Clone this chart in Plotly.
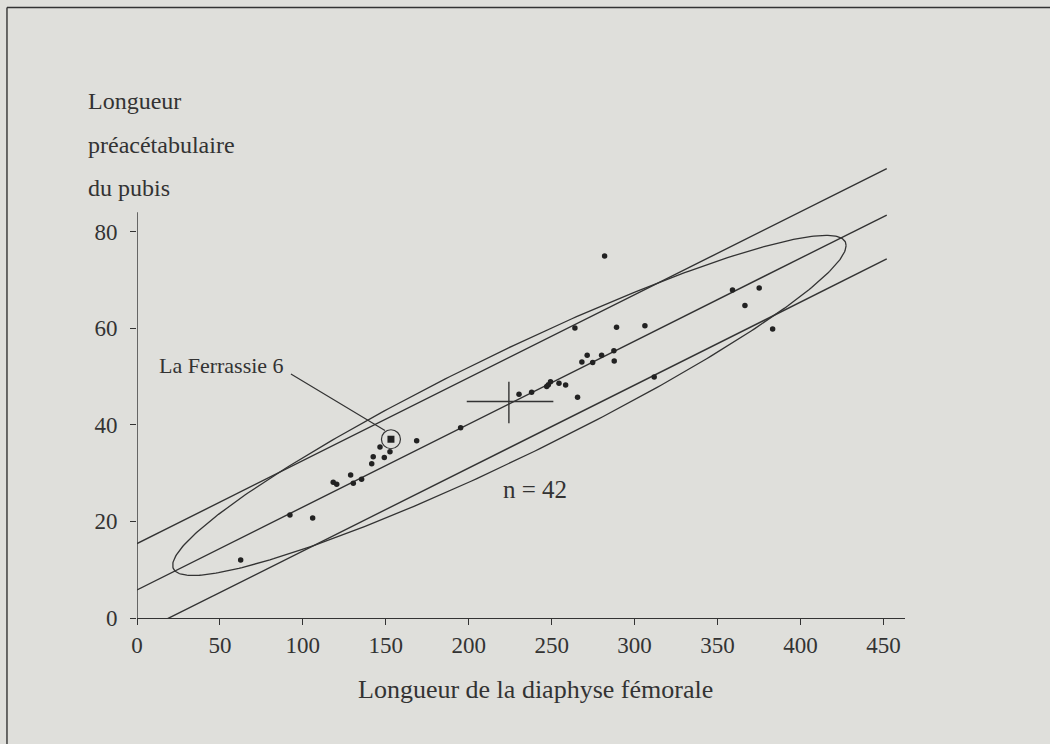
import numpy as np
import plotly.graph_objects as go

# ---- data ----
femur = [62.5, 92.2, 105.9, 118.3, 120.4, 128.8, 130.4, 135.4, 141.5, 142.4,
         146.5, 149.1, 152.5, 168.6, 195.1, 230.3, 237.9, 247.0, 248.0, 249.3,
         254.4, 258.4, 265.6, 264.0, 268.2, 271.4, 274.7, 280.1, 281.9, 287.5,
         287.7, 289.1, 306.2, 311.8, 359.0, 366.5, 375.1, 383.2]
pubis = [12.0, 21.3, 20.7, 28.1, 27.7, 29.6, 27.9, 28.7, 31.9, 33.4,
         35.4, 33.2, 34.4, 36.7, 39.4, 46.3, 46.7, 47.9, 48.3, 48.9,
         48.6, 48.2, 45.7, 60.0, 53.0, 54.4, 52.9, 54.4, 74.9, 55.3,
         53.2, 60.2, 60.5, 49.9, 67.9, 64.7, 68.3, 59.8]
ferrassie_x = [153.1]
ferrassie_y = [37.0]

reg_slope = 0.1717
reg_intercept = 5.8
upper_intercept = 15.4
lower_intercept = -3.3
line_x_start = [0, 0, 17]
line_x_end = 452

mean_x = 224.2
mean_y = 44.8
cross_x = [198.8, 251.0]
cross_y = [40.3, 48.9]

ell_cx, ell_cy, ell_ax, ell_k, ell_w = 224.5, 44.0, 203.0, 0.163, 12.0

x_ticks = [0, 50, 100, 150, 200, 250, 300, 350, 400, 450]
y_ticks = [0, 20, 40, 60, 80]

INK = "#333333"
BG = "#dfdfdb"
FONT = "Liberation Serif"

fig = go.Figure()

# regression line and bands
for b0, xs in zip([reg_intercept, upper_intercept, lower_intercept], line_x_start):
    xx = np.array([xs, line_x_end], dtype=float)
    fig.add_trace(go.Scatter(x=xx, y=b0 + reg_slope * xx, mode="lines",
                             line=dict(color=INK, width=1.4), hoverinfo="skip",
                             showlegend=False))

# ellipse
t = np.linspace(0, 2 * np.pi, 400)
ex = ell_cx + ell_ax * np.cos(t)
ey = ell_cy + ell_k * ell_ax * np.cos(t) + ell_w * np.sin(t)
fig.add_trace(go.Scatter(x=ex, y=ey, mode="lines", line=dict(color=INK, width=1.3),
                         hoverinfo="skip", showlegend=False))

# mean cross
fig.add_trace(go.Scatter(x=cross_x, y=[mean_y, mean_y], mode="lines",
                         line=dict(color=INK, width=1.4), showlegend=False))
fig.add_trace(go.Scatter(x=[mean_x, mean_x], y=cross_y, mode="lines",
                         line=dict(color=INK, width=1.4), showlegend=False))

# points
fig.add_trace(go.Scatter(x=femur, y=pubis, mode="markers",
                         marker=dict(color="#222222", size=5.5, symbol="circle"),
                         showlegend=False))
fig.add_trace(go.Scatter(x=ferrassie_x, y=ferrassie_y, mode="markers",
                         marker=dict(color="#222222", size=7, symbol="square"),
                         showlegend=False))
fig.add_trace(go.Scatter(x=ferrassie_x, y=ferrassie_y, mode="markers",
                         marker=dict(color=INK, size=19, symbol="circle-open",
                                     line=dict(color=INK, width=1.2)),
                         showlegend=False))

# y axis line (stops at ~84)
fig.add_shape(type="line", x0=0, x1=0, y0=-0.5, y1=84, xref="x", yref="y",
              line=dict(color=INK, width=1.4))

# frame
fig.add_shape(type="line", xref="paper", yref="paper", x0=-0.1693, x1=1.19, y0=1.330, y1=1.330,
              line=dict(color=INK, width=1.4))
fig.add_shape(type="line", xref="paper", yref="paper", x0=-0.1693, x1=-0.1693, y0=1.330, y1=-0.28,
              line=dict(color=INK, width=1.4))

# annotations
fig.add_annotation(x=51.2, y=52.2, xref="x", yref="y", text="La Ferrassie 6",
                   showarrow=False, font=dict(family=FONT, size=22, color=INK))
fig.add_annotation(x=92.8, y=50.5, ax=150.4, ay=38.6, xref="x", yref="y", axref="x", ayref="y",
                   text="", showarrow=True, arrowhead=0, arrowwidth=1.2, arrowcolor=INK)
fig.add_annotation(x=239.9, y=26.5, xref="x", yref="y", text="n = 42",
                   showarrow=False, font=dict(family=FONT, size=25, color=INK))

fig.add_annotation(x=-0.066, y=1.16, xref="paper", yref="paper", xanchor="left",
                   text="Longueur", showarrow=False, font=dict(family=FONT, size=24, color=INK))
fig.add_annotation(x=-0.066, y=1.063, xref="paper", yref="paper", xanchor="left",
                   text="préacétabulaire", showarrow=False, font=dict(family=FONT, size=24, color=INK))
fig.add_annotation(x=-0.066, y=0.969, xref="paper", yref="paper", xanchor="left",
                   text="du pubis", showarrow=False, font=dict(family=FONT, size=24, color=INK))
fig.add_annotation(x=0.5195, y=-0.191, xref="paper", yref="paper",
                   text="Longueur de la diaphyse fémorale", showarrow=False,
                   font=dict(family=FONT, size=26, color=INK))

fig.update_layout(
    width=1050, height=744,
    margin=dict(l=137, r=145, t=159, b=126),
    paper_bgcolor=BG, plot_bgcolor=BG,
    font=dict(family=FONT, size=22, color=INK),
    xaxis=dict(range=[0, 463], tickvals=x_ticks, ticks="outside", ticklen=6,
               tickcolor=INK, showline=True, linecolor=INK, linewidth=1.4,
               showgrid=False, zeroline=False, tickfont=dict(size=23)),
    yaxis=dict(range=[0, 95], tickvals=y_ticks, ticks="outside", ticklen=6,
               tickcolor=INK, showline=False, showgrid=False, zeroline=False,
               ticklabelstandoff=8, tickfont=dict(size=23)),
)

fig.write_html("out.html")
